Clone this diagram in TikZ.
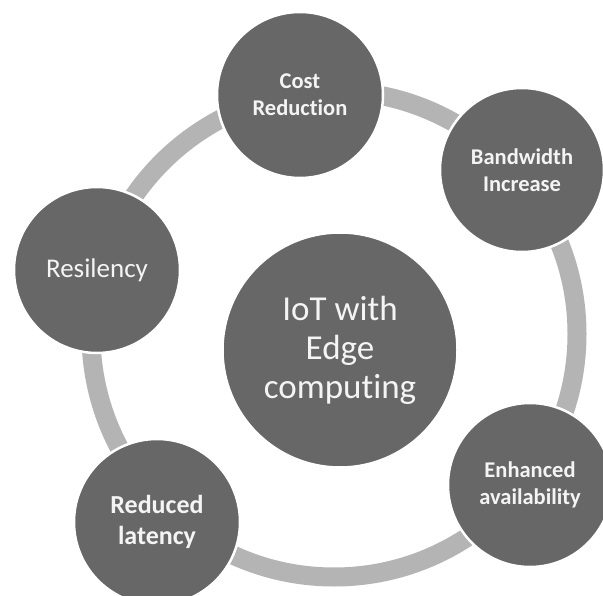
\documentclass[tikz,border=0pt]{standalone}
\usepackage{fontspec}
\setmainfont{Carlito}[RawFeature={-liga;-clig;-dlig}]
\definecolor{discgray}{HTML}{676767}
\definecolor{ringgray}{HTML}{B4B4B4}
\definecolor{txtgray}{HTML}{F4F4F4}
\begin{document}
\begin{tikzpicture}[x=1pt,y=-1pt,
  disc/.style={circle,fill=discgray,draw=white,line width=2.5pt,minimum size=#1,inner sep=0pt,
    text=txtgray,align=center},
  smallbold/.style={font=\fontsize{22.5}{27}\selectfont\bfseries},
  bigbold/.style={font=\fontsize{26}{31}\selectfont\bfseries},
  plain/.style={font=\fontsize{27}{33}\selectfont},
  centertxt/.style={font=\fontsize{35}{39}\selectfont}]
\useasboundingbox (0,0) rectangle (603,596);
\clip (0,0) rectangle (603,596);
\fill[white] (0,0) rectangle (603,596);
\coordinate (ringc) at (334,334);
\draw[ringgray,line width=19pt] (ringc) circle[radius=243];
\node[disc=235pt,centertxt] (core) at (340,350) {IoT with\\Edge\\computing};
\node[disc=166pt,smallbold] (cost) at (300,95) {Cost\\Reduction};
\node[disc=164pt,smallbold] (band) at (522,170) {Bandwidth\\Increase};
\node[disc=164pt,smallbold] (avail) at (530,485) {Enhanced\\availability};
\node[disc=166pt,bigbold] (lat) at (157,522) {Reduced\\latency};
\node[disc=166pt,plain] (res) at (97,270) {Resilency};
\end{tikzpicture}
\end{document}
